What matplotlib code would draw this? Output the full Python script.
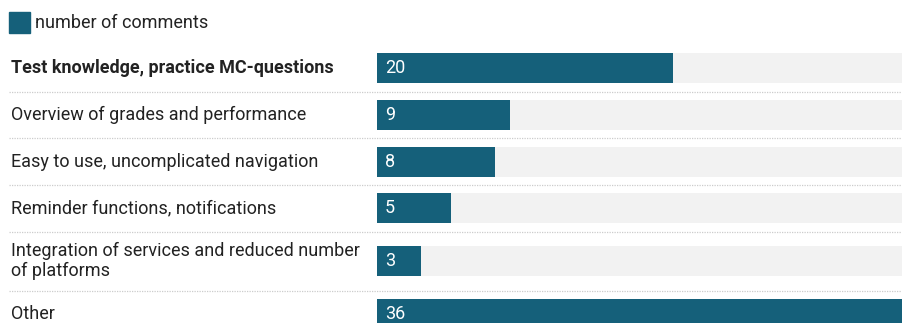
import matplotlib
matplotlib.use("Agg")
import matplotlib.pyplot as plt
from matplotlib.patches import Rectangle
from matplotlib.transforms import offset_copy

plt.rcParams['font.family'] = ['Roboto', 'DejaVu Sans']

categories = [
    "Test knowledge, practice MC-questions",
    "Overview of grades and performance",
    "Easy to use, uncomplicated navigation",
    "Reminder functions, notifications",
    "Integration of services and reduced number\nof platforms",
    "Other",
]
values = [20, 9, 8, 5, 3, 36]
highlight = [True, False, False, False, False, False]
series_name = "number of comments"

BAR_COLOR = "#15607a"
BAND_COLOR = "#f2f2f2"
TEXT_COLOR = "#222222"
SEP_COLOR = "#cccccc"

W, H = 903, 323
fig = plt.figure(figsize=(W / 100, H / 100), dpi=100)

base = fig.add_axes([0, 0, 1, 1])
base.set_xlim(0, W)
base.set_ylim(H, 0)
base.axis("off")

bar_left = 377
bar_right = 910  # full scale extends slightly past the canvas edge
ax = fig.add_axes([bar_left / W, 0, (bar_right - bar_left) / W, 1])
ax.set_xlim(0, max(values))
ax.set_ylim(H, 0)
ax.axis("off")

fs = 13

# legend
base.add_patch(Rectangle((9, 12), 21, 21, color=BAR_COLOR))
base.text(35, 22.5, series_name, fontsize=fs, color=TEXT_COLOR, va="center", ha="left")

# rows layout
single_h = 46.7
extra_line = 12.3
top = 45.0
bar_h = 30
lbl_tr = offset_copy(ax.transData, fig=fig, x=8, y=0, units="dots")
for cat, v, hl in zip(categories, values, highlight):
    nlines = cat.count("\n") + 1
    rh = single_h + extra_line * (nlines - 1)
    center = top + rh / 2
    base.text(11, center, cat, fontsize=fs, color=TEXT_COLOR, va="center", ha="left",
              fontweight="bold" if hl else "normal", linespacing=1.15)
    ax.barh(center, max(values), height=bar_h, color=BAND_COLOR, linewidth=0)
    ax.barh(center, v, height=bar_h, color=BAR_COLOR, linewidth=0)
    ax.text(0, center, str(v), fontsize=fs, color="white", va="center", ha="left",
            transform=lbl_tr)
    top += rh
    if top < H - 10:
        base.plot([9, W], [top, top], color=SEP_COLOR, linestyle=(0, (1, 1)), linewidth=0.9)

fig.savefig("out.png", dpi=100)
